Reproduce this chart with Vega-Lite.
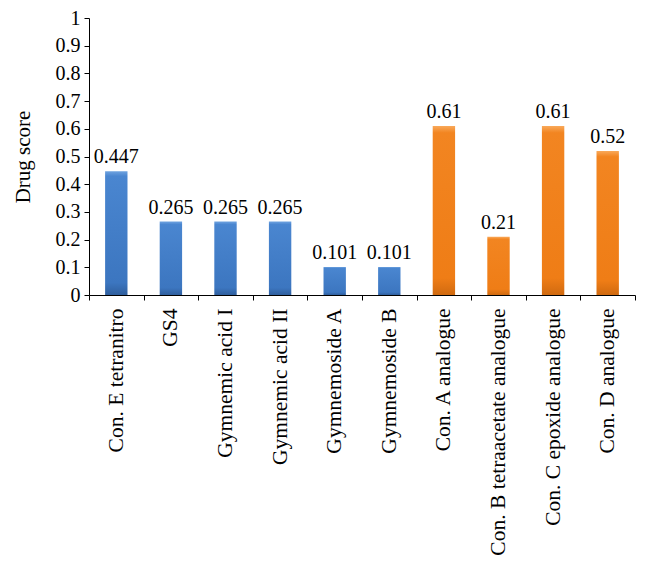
{
  "$schema": "https://vega.github.io/schema/vega-lite/v6.json",
  "width": 546,
  "height": 277,
  "padding": {"left": 12, "top": 8, "right": 5, "bottom": 5},
  "background": "white",
  "config": {
    "view": {"stroke": null},
    "font": "Liberation Serif",
    "axis": {"labelFont": "Liberation Serif", "titleFont": "Liberation Serif"},
    "text": {"font": "Liberation Serif"}
  },
  "data": {
    "values": [
      {"compound": "Con. E tetranitro", "score": 0.447, "label": "0.447", "group": "A"},
      {"compound": "GS4", "score": 0.265, "label": "0.265", "group": "A"},
      {"compound": "Gymnemic acid I", "score": 0.265, "label": "0.265", "group": "A"},
      {"compound": "Gymnemic acid II", "score": 0.265, "label": "0.265", "group": "A"},
      {"compound": "Gymnemoside A", "score": 0.101, "label": "0.101", "group": "A"},
      {"compound": "Gymnemoside B", "score": 0.101, "label": "0.101", "group": "A"},
      {"compound": "Con. A analogue", "score": 0.61, "label": "0.61", "group": "B"},
      {"compound": "Con. B tetraacetate analogue", "score": 0.21, "label": "0.21", "group": "B"},
      {"compound": "Con. C epoxide analogue", "score": 0.61, "label": "0.61", "group": "B"},
      {"compound": "Con. D analogue", "score": 0.52, "label": "0.52", "group": "B"}
    ]
  },
  "encoding": {
    "x": {
      "field": "compound",
      "type": "nominal",
      "sort": null,
      "scale": {"paddingInner": 0, "paddingOuter": 0},
      "axis": {
        "title": null,
        "labelAngle": -90,
        "labelFont": "Liberation Serif",
        "labelFontSize": 21.5,
        "labelColor": "black",
        "labelPadding": 8,
        "labelLimit": 300,
        "tickBand": "extent",
        "tickColor": "black",
        "tickSize": 5,
        "domainColor": "black"
      }
    },
    "y": {
      "field": "score",
      "type": "quantitative",
      "scale": {"domain": [0, 1]},
      "axis": {
        "title": "Drug score",
        "titleFont": "Liberation Serif",
        "titleFontSize": 21,
        "titleFontWeight": "normal",
        "titleColor": "black",
        "titlePadding": 22,
        "values": [0, 0.1, 0.2, 0.3, 0.4, 0.5, 0.6, 0.7, 0.8, 0.9, 1],
        "format": ".1~f",
        "labelFont": "Liberation Serif",
        "labelFontSize": 20,
        "labelColor": "black",
        "labelPadding": 4,
        "grid": false,
        "tickColor": "black",
        "tickSize": 5,
        "domainColor": "black"
      }
    }
  },
  "layer": [
    {
      "transform": [{"filter": "datum.group === 'A'"}],
      "mark": {
        "type": "bar",
        "width": {"band": 0.41},
        "color": {
          "gradient": "linear", "x1": 0, "y1": 0, "x2": 0, "y2": 1,
          "stops": [
            {"offset": 0, "color": "#6fa3e0"},
            {"offset": 0.04, "color": "#4a86d0"},
            {"offset": 0.9, "color": "#3c76c0"},
            {"offset": 1, "color": "#2f5f9e"}
          ]
        }
      }
    },
    {
      "transform": [{"filter": "datum.group === 'B'"}],
      "mark": {
        "type": "bar",
        "width": {"band": 0.41},
        "color": {
          "gradient": "linear", "x1": 0, "y1": 0, "x2": 0, "y2": 1,
          "stops": [
            {"offset": 0, "color": "#f9a95a"},
            {"offset": 0.04, "color": "#f28521"},
            {"offset": 0.9, "color": "#ef7d16"},
            {"offset": 1, "color": "#d06a10"}
          ]
        }
      }
    },
    {
      "mark": {"type": "text", "baseline": "bottom", "dy": -4, "fontSize": 20, "font": "Liberation Serif", "color": "black"},
      "encoding": {"text": {"field": "label"}}
    }
  ]
}
